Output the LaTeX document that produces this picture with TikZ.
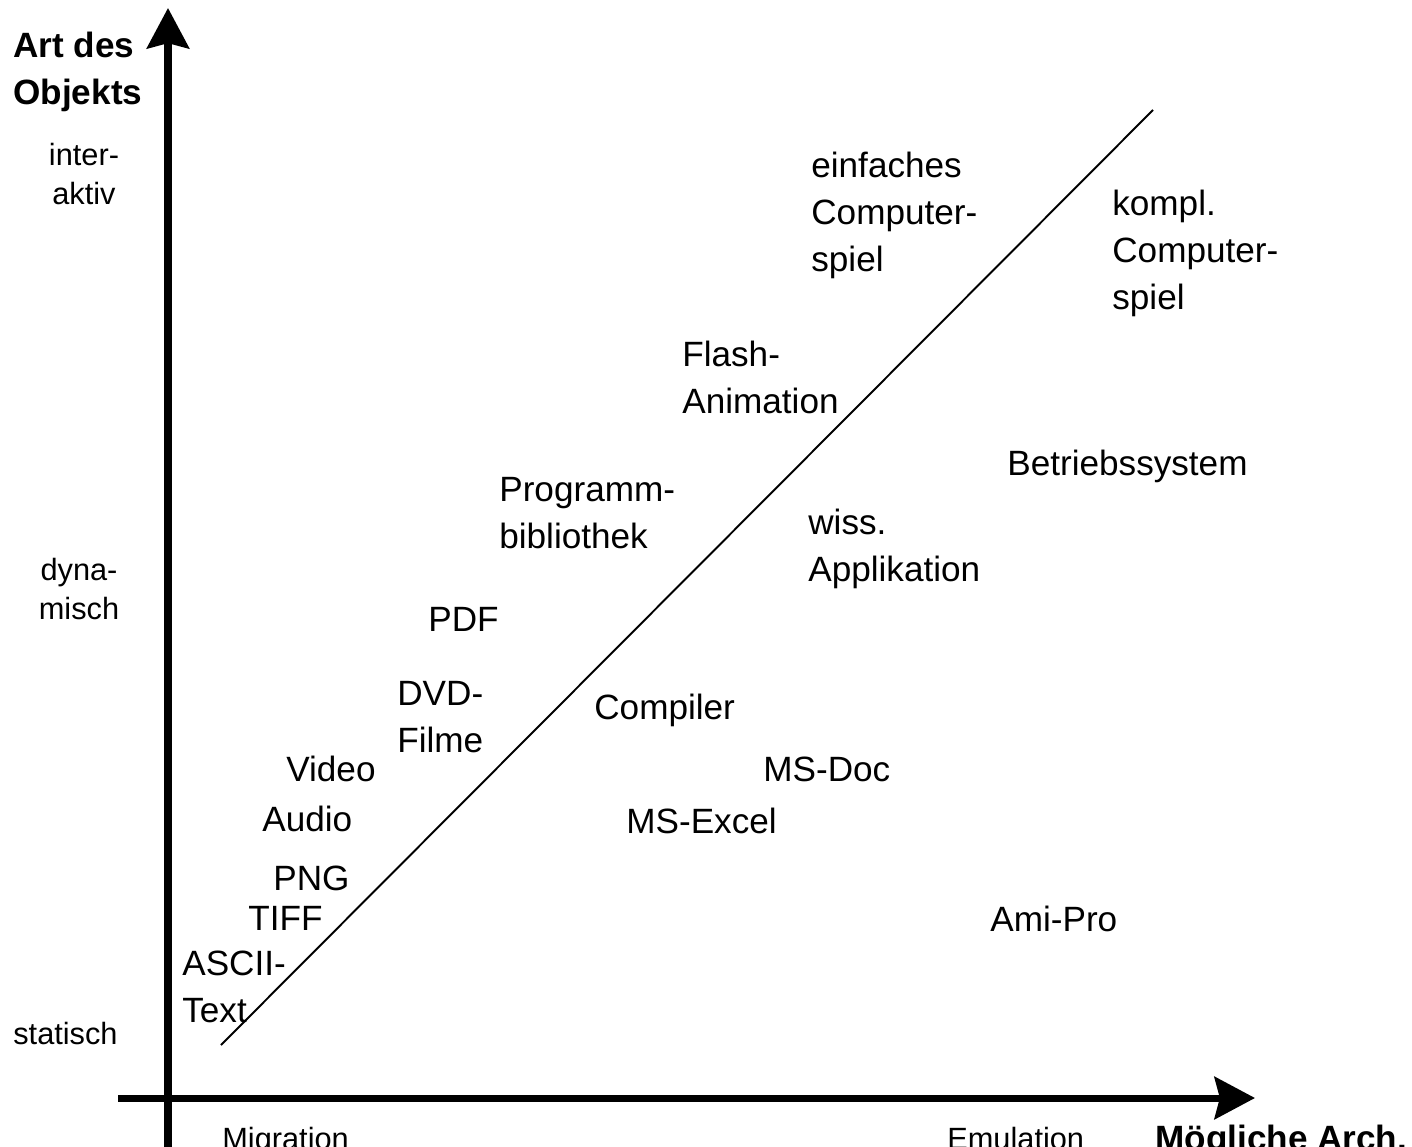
\documentclass[tikz,border=0pt]{standalone}
\usepackage{fontspec}
\setmainfont{Liberation Sans}
\usetikzlibrary{arrows.meta}
\tikzset{
  lbl/.style={font=\fontsize{20}{26.6}\selectfont, anchor=base west, inner sep=0pt, align=left},
  axlbl/.style={font=\fontsize{17.5}{22.1}\selectfont, anchor=base, inner sep=0pt, align=center},
  axtitle/.style={font=\fontsize{20}{26.6}\selectfont\bfseries, anchor=base west, inner sep=0pt, align=left},
  axis/.style={line width=4pt, -{Stealth[length=23pt, width=24pt, inset=3pt]}},
  diag/.style={line width=1.1pt}
}
\begin{document}
\begin{tikzpicture}[x=0.02cm, y=-0.02cm]
\useasboundingbox (0,0) rectangle (1412,1146);
% axes
\coordinate (ybot) at (168,1160);
\coordinate (ytop) at (168,8);
\coordinate (xleft) at (118,1098);
\coordinate (xright) at (1255,1098);
\draw[axis] (ybot) -- (ytop);
\draw[axis] (xleft) -- (xright);
% diagonal
\coordinate (d1) at (221,1045);
\coordinate (d2) at (1153,110);
\draw[diag] (d1) -- (d2);
% axis titles and labels (base = baseline of last line)
\node[axtitle] (ytitle) at (13,104) {Art des\\Objekts};
\node[axlbl] (inter) at (84,204) {inter-\\aktiv};
\node[axlbl] (dyn) at (79,619) {dyna-\\misch};
\node[axlbl, anchor=base west] (stat) at (13,1044) {statisch};
\node[axlbl, anchor=base west] (migr) at (222,1149) {Migration};
\node[axlbl, anchor=base west] (emul) at (947,1149) {Emulation};
\node[axtitle] (xtitle) at (1155,1150) {Mögliche Arch.};
% items
\node[lbl] (einf) at (811,271) {einfaches\\Computer-\\spiel};
\node[lbl] (kompl) at (1112,309) {kompl.\\Computer-\\spiel};
\node[lbl] (flash) at (682,413) {Flash-\\Animation};
\node[lbl] (betr) at (1007,475) {Betriebssystem};
\node[lbl] (prog) at (499,548) {Programm-\\bibliothek};
\node[lbl] (wiss) at (808,581) {wiss.\\Applikation};
\node[lbl] (pdf) at (428,631) {PDF};
\node[lbl] (dvd) at (397,752) {DVD-\\Filme};
\node[lbl] (comp) at (594,719) {Compiler};
\node[lbl] (video) at (286,781) {Video};
\node[lbl] (msdoc) at (763,781) {MS-Doc};
\node[lbl] (audio) at (262,831) {Audio};
\node[lbl] (msxl) at (626,833) {MS-Excel};
\node[lbl] (png) at (273,890) {PNG};
\node[lbl] (tiff) at (248,930) {TIFF};
\node[lbl] (ami) at (990,931) {Ami-Pro};
\node[lbl] (ascii) at (182,1022) {ASCII-\\Text};
\end{tikzpicture}
\end{document}
